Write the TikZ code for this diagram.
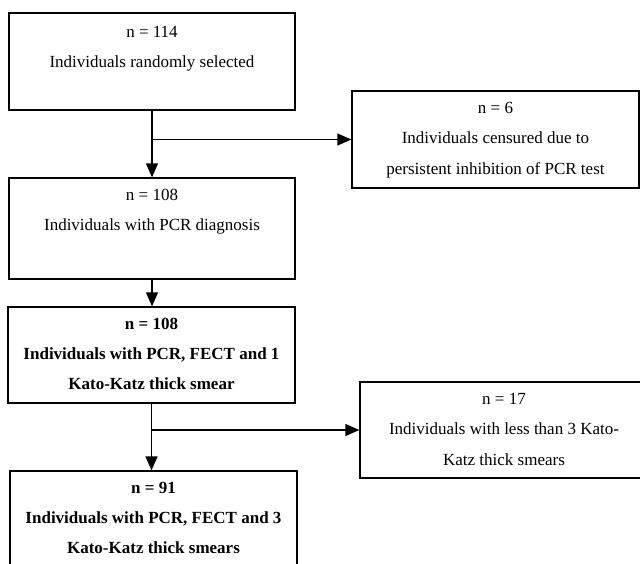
\documentclass[tikz,border=0pt]{standalone}
\usepackage{fontspec}
\setmainfont{Liberation Serif}
\usetikzlibrary{arrows.meta}

\begin{document}
\begin{tikzpicture}[x=1pt, y=-1pt,
	box/.style={draw, line width=1.3pt, inner sep=0pt},
	txt/.style={anchor=north, align=center, inner sep=0pt, font=\fontsize{17}{30.5}\selectfont},
	arr/.style={line width=1.3pt, -{Triangle[length=14pt, width=12pt]}}]

	\useasboundingbox (0, 0) rectangle (640, 563);
	\clip (0, 0) rectangle (640, 563);

	\node[box, minimum width=286pt, minimum height=97pt] (sel) at (152, 61.5) {};
	\node[box, minimum width=287pt, minimum height=97pt] (cen) at (495.5, 139.5) {};
	\node[box, minimum width=286pt, minimum height=101pt] (pcr) at (152, 228.5) {};
	\node[box, minimum width=287pt, minimum height=96pt] (kk1) at (151.5, 355) {};
	\node[box, minimum width=288pt, minimum height=96pt] (less) at (504, 430) {};
	\node[box, minimum width=287pt, minimum height=97pt] (kk3) at (153.5, 519.5) {};

	\node[txt] (sel text) at ([yshift=-13.5pt] sel.north) {n = 114\\Individuals randomly selected};
	\node[txt] (cen text) at ([yshift=-11.5pt] cen.north) {n = 6\\Individuals censured due to\\persistent inhibition of PCR test};
	\node[txt] (pcr text) at ([yshift=-11.5pt] pcr.north) {n = 108\\Individuals with PCR diagnosis};
	\node[txt, font=\fontsize{17}{30}\selectfont\bfseries] (kk1 text) at ([yshift=-12pt] kk1.north) {n = 108\\Individuals with PCR, FECT and 1\\Kato-Katz thick smear};
	\node[txt] (less text) at ([yshift=-11.5pt] less.north) {n = 17\\Individuals with less than 3 Kato-\\Katz thick smears};
	\node[txt, font=\fontsize{17}{30}\selectfont\bfseries] (kk3 text) at ([yshift=-11.5pt] kk3.north) {n = 91\\Individuals with PCR, FECT and 3\\Kato-Katz thick smears};

	% main line and the branches off it
	\draw[arr] (sel.south) -- (sel.south |- pcr.north);
	\draw[arr] (sel.south |- cen.west) -- (cen.west);
	\draw[arr] (pcr.south) -- (pcr.south |- kk1.north);
	\draw[arr] (kk1.south) -- (kk1.south |- kk3.north);
	\draw[arr] (kk1.south |- less.west) -- (less.west);

\end{tikzpicture}
\end{document}
